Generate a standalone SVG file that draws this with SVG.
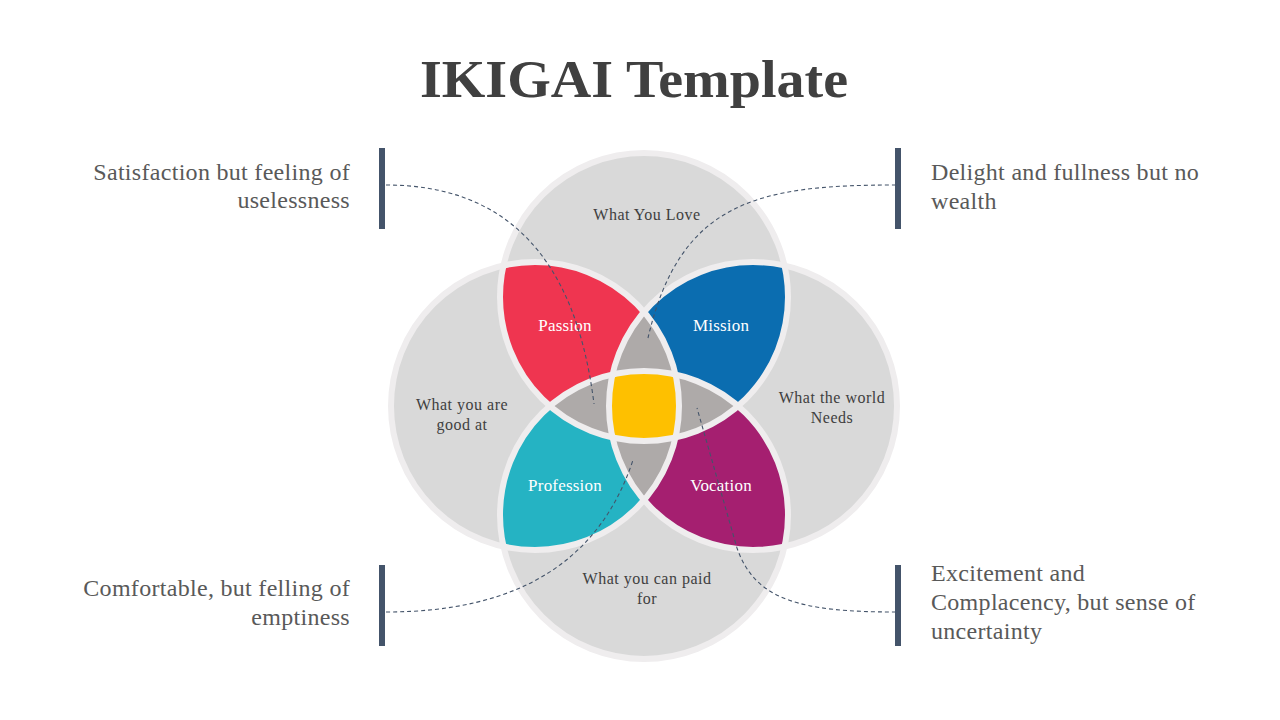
<svg xmlns="http://www.w3.org/2000/svg" xmlns:xlink="http://www.w3.org/1999/xlink" width="1280" height="720" viewBox="0 0 1280 720">
<style>
.base{fill:#d9d9d9}
.ring{fill:none;stroke:#efedee;stroke-width:6}
.lbl{font-family:"Liberation Serif","DejaVu Serif",serif;font-size:16px;letter-spacing:0.5px;fill:#404040;text-anchor:middle}
.wl{font-family:"Liberation Serif","DejaVu Serif",serif;font-size:17px;letter-spacing:0.2px;fill:#ffffff;text-anchor:middle}
.side{font-family:"Liberation Serif","DejaVu Serif",serif;font-size:24px;letter-spacing:0.3px;fill:#595959}
.bar{fill:#44546a}
.dash{fill:none;stroke:#44546a;stroke-width:1.1;stroke-dasharray:4 3}
</style>
<defs>
<circle id="cT" cx="644" cy="297" r="144"/>
<circle id="cL" cx="535" cy="406" r="144"/>
<circle id="cR" cx="753" cy="406" r="144"/>
<circle id="cB" cx="644" cy="515" r="144"/>
<clipPath id="kT"><use xlink:href="#cT"/></clipPath>
<clipPath id="kL"><use xlink:href="#cL"/></clipPath>
<clipPath id="kR"><use xlink:href="#cR"/></clipPath>
<clipPath id="kB"><use xlink:href="#cB"/></clipPath>
</defs>
<rect width="1280" height="720" fill="#ffffff"/>
<text x="634" y="97" font-family="'Liberation Serif','DejaVu Serif',serif" font-weight="bold" font-size="52" fill="#404040" text-anchor="middle" textLength="428" lengthAdjust="spacingAndGlyphs">IKIGAI Template</text>

<g id="circles">
<use xlink:href="#cT" class="base"/>
<use xlink:href="#cL" class="base"/>
<use xlink:href="#cR" class="base"/>
<use xlink:href="#cB" class="base"/>
</g>
<g id="passion"><g clip-path="url(#kL)"><use xlink:href="#cT" fill="#ef3550"/></g></g>
<g id="mission"><g clip-path="url(#kR)"><use xlink:href="#cT" fill="#0b6db0"/></g></g>
<g id="profession"><g clip-path="url(#kL)"><use xlink:href="#cB" fill="#25b3c3"/></g></g>
<g id="vocation"><g clip-path="url(#kR)"><use xlink:href="#cB" fill="#a51f70"/></g></g>
<g id="triples" fill="#aeaaa9">
<g clip-path="url(#kL)"><g clip-path="url(#kR)"><use xlink:href="#cT"/></g></g>
<g clip-path="url(#kL)"><g clip-path="url(#kR)"><use xlink:href="#cB"/></g></g>
<g clip-path="url(#kT)"><g clip-path="url(#kB)"><use xlink:href="#cL"/></g></g>
<g clip-path="url(#kT)"><g clip-path="url(#kB)"><use xlink:href="#cR"/></g></g>
</g>
<g id="ikigai"><g clip-path="url(#kT)"><g clip-path="url(#kB)"><g clip-path="url(#kL)"><use xlink:href="#cR" fill="#fec000"/></g></g></g></g>
<g id="rings">
<use xlink:href="#cT" class="ring"/>
<use xlink:href="#cL" class="ring"/>
<use xlink:href="#cR" class="ring"/>
<use xlink:href="#cB" class="ring"/>
</g>

<g id="labels">
<text class="lbl" x="647" y="220">What You Love</text>
<text class="lbl" x="462" y="410">What you are</text>
<text class="lbl" x="462" y="430">good at</text>
<text class="lbl" x="832" y="403">What the world</text>
<text class="lbl" x="832" y="423">Needs</text>
<text class="lbl" x="647" y="584">What you can paid</text>
<text class="lbl" x="647" y="604">for</text>
<text class="wl" x="565" y="331">Passion</text>
<text class="wl" x="721" y="331">Mission</text>
<text class="wl" x="565" y="491">Profession</text>
<text class="wl" x="721" y="491">Vocation</text>
</g>

<g id="connectors">
<path class="dash" d="M386,185 C500,185 575,250 594,404"/>
<path class="dash" d="M896,185 C760,185 680,200 648,338"/>
<path class="dash" d="M386,612 C520,612 600,560 633,460"/>
<path class="dash" d="M896,612 C800,612 755,600 737,548 L697,408"/>
</g>

<g id="note-tl">
<rect class="bar" x="379" y="148" width="6" height="81"/>
<text class="side" x="350" y="180" text-anchor="end">Satisfaction but feeling of</text>
<text class="side" x="350" y="208" text-anchor="end">uselessness</text>
</g>
<g id="note-tr">
<rect class="bar" x="895" y="148" width="6" height="81"/>
<text class="side" x="931" y="180">Delight and fullness but no</text>
<text class="side" x="931" y="209">wealth</text>
</g>
<g id="note-bl">
<rect class="bar" x="379" y="565" width="6" height="81"/>
<text class="side" x="350" y="596" text-anchor="end">Comfortable, but felling of</text>
<text class="side" x="350" y="625" text-anchor="end">emptiness</text>
</g>
<g id="note-br">
<rect class="bar" x="895" y="565" width="6" height="81"/>
<text class="side" x="931" y="581">Excitement and</text>
<text class="side" x="931" y="610">Complacency, but sense of</text>
<text class="side" x="931" y="639">uncertainty</text>
</g>
</svg>
